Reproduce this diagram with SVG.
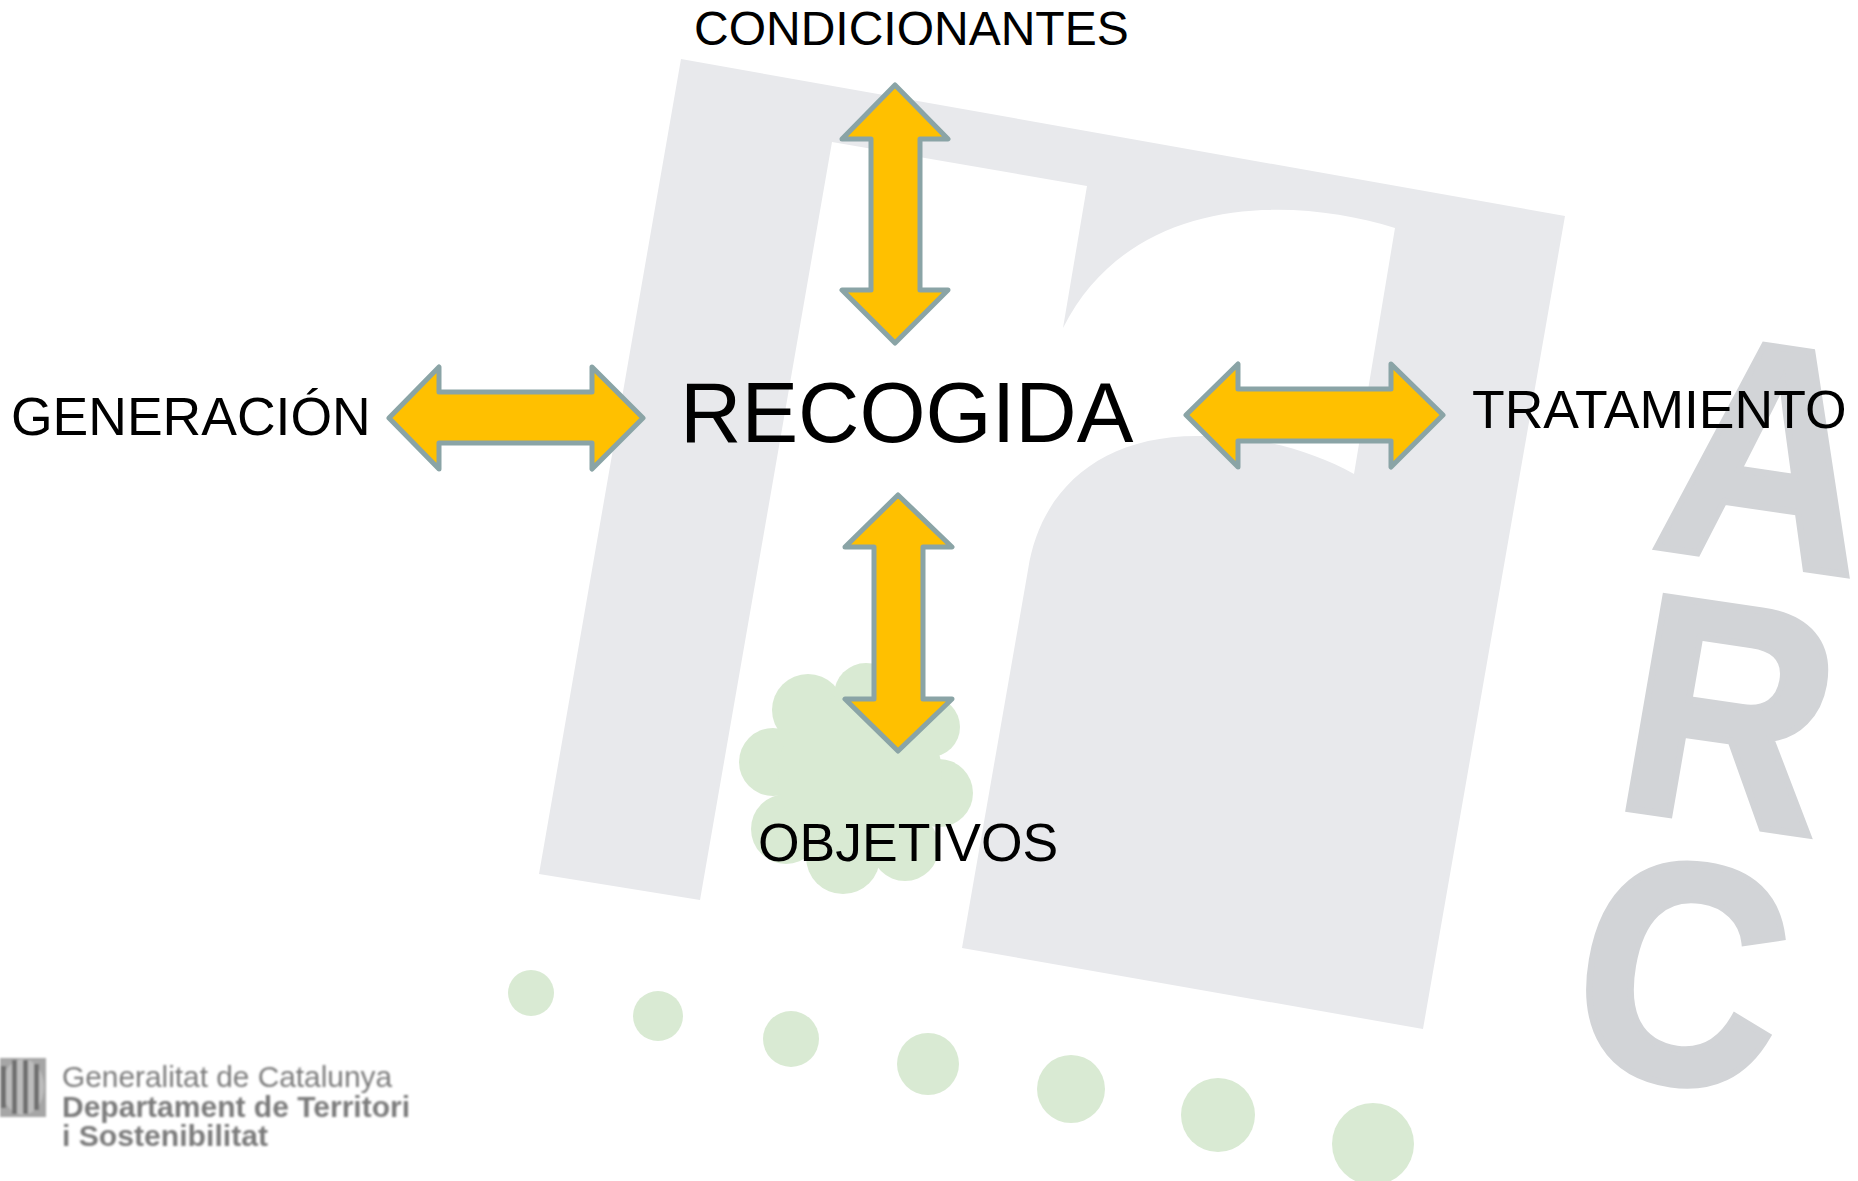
<svg xmlns="http://www.w3.org/2000/svg" width="1858" height="1181" viewBox="0 0 1858 1181">
<defs>
<style>
.lbl{font-family:"Liberation Sans",Arial,sans-serif;fill:#000}
.arrow{fill:#ffc000;stroke:#8aa4a6;stroke-width:5;stroke-linejoin:round}
.arc{font-family:"Liberation Sans",Arial,sans-serif;font-weight:700;font-size:313px;fill:#d2d4d7;stroke:#d2d4d7;stroke-width:7}
.gen{font-family:"Liberation Sans",Arial,sans-serif;font-size:29px;fill:#7c7c7c}
.dot{fill:#d9ead3}
</style>
<filter id="soft" x="-5%" y="-5%" width="110%" height="110%"><feGaussianBlur stdDeviation="0.8"/></filter>
</defs>
<rect width="1858" height="1181" fill="#fff"/>
<g id="background">
<path fill="#e8e9ec" d="M681 59L1565 216L1423 1029L962 948L1028 570C1040 490 1100 436 1197 436C1260 436 1310 450 1354 474L1395 228C1290 195 1130 195 1063 328L1087 186L832 142L700 900L539 874Z"/>
<g fill="#d9ead3">
<circle cx="808" cy="710" r="36"/><circle cx="866" cy="695" r="32"/><circle cx="930" cy="727" r="30"/><circle cx="939" cy="793" r="34"/><circle cx="773" cy="762" r="34"/><circle cx="786" cy="829" r="35"/><circle cx="843" cy="857" r="37"/><circle cx="905" cy="847" r="34"/><circle cx="860" cy="775" r="82"/>
</g>
<circle class="dot" cx="531" cy="993" r="23"/><circle class="dot" cx="658" cy="1016" r="25"/><circle class="dot" cx="791" cy="1039" r="28"/><circle class="dot" cx="928" cy="1064" r="31"/><circle class="dot" cx="1071" cy="1089" r="34"/><circle class="dot" cx="1218" cy="1115" r="37"/><circle class="dot" cx="1373" cy="1144" r="41"/>
<text class="arc" transform="matrix(.9 .132 -.17 .985 1650 546)">A</text>
<text class="arc" transform="matrix(.9 .132 -.17 .985 1610 806)">R</text>
<text class="arc" transform="matrix(.9 .132 -.17 .985 1562 1065)">C</text>
</g>
<g id="generalitat" filter="url(#soft)">
<rect x="0" y="1058" width="46" height="59" fill="#a6a6a6"/>
<ellipse cx="23" cy="1087" rx="21" ry="28" fill="#bdbdbd"/>
<g fill="#6f6f6f"><rect x="1" y="1066" width="5" height="42"/><rect x="12" y="1060" width="5" height="54"/><rect x="23" y="1060" width="5" height="54"/><rect x="34" y="1064" width="5" height="46"/></g>
<text class="gen" x="62" y="1087" textLength="330" lengthAdjust="spacingAndGlyphs">Generalitat de Catalunya</text>
<text class="gen" x="62" y="1117" style="font-weight:700" textLength="348" lengthAdjust="spacingAndGlyphs">Departament de Territori</text>
<text class="gen" x="62" y="1146" style="font-weight:700" textLength="206" lengthAdjust="spacingAndGlyphs">i Sostenibilitat</text>
</g>
<g id="connectors">
<path id="arrow-generacion" class="arrow" d="M389 418L439 367V392H592V367L643 418L592 469V443H439V469Z"/>
<path id="arrow-tratamiento" class="arrow" d="M1186 415L1238 364V389H1391V364L1443 415L1391 467V441H1238V467Z"/>
<path id="arrow-condicionantes" class="arrow" d="M895 85L948 139H920V290H948L895 343L842 290H871V139H842Z"/>
<path id="arrow-objetivos" class="arrow" d="M898 495L952 547H923V699H952L898 751L845 699H874V547H845Z"/>
</g>
<g id="node-recogida"><text class="lbl" x="680" y="442" font-size="85">RECOGIDA</text></g>
<g id="node-condicionantes"><text class="lbl" x="694" y="45" font-size="48">CONDICIONANTES</text></g>
<g id="node-generacion"><text class="lbl" x="11" y="435" font-size="53.5">GENERACIÓN</text></g>
<g id="node-tratamiento"><text class="lbl" x="1472" y="428" font-size="53.5">TRATAMIENTO</text></g>
<g id="node-objetivos"><text class="lbl" x="758" y="861" font-size="53.5">OBJETIVOS</text></g>
</svg>
